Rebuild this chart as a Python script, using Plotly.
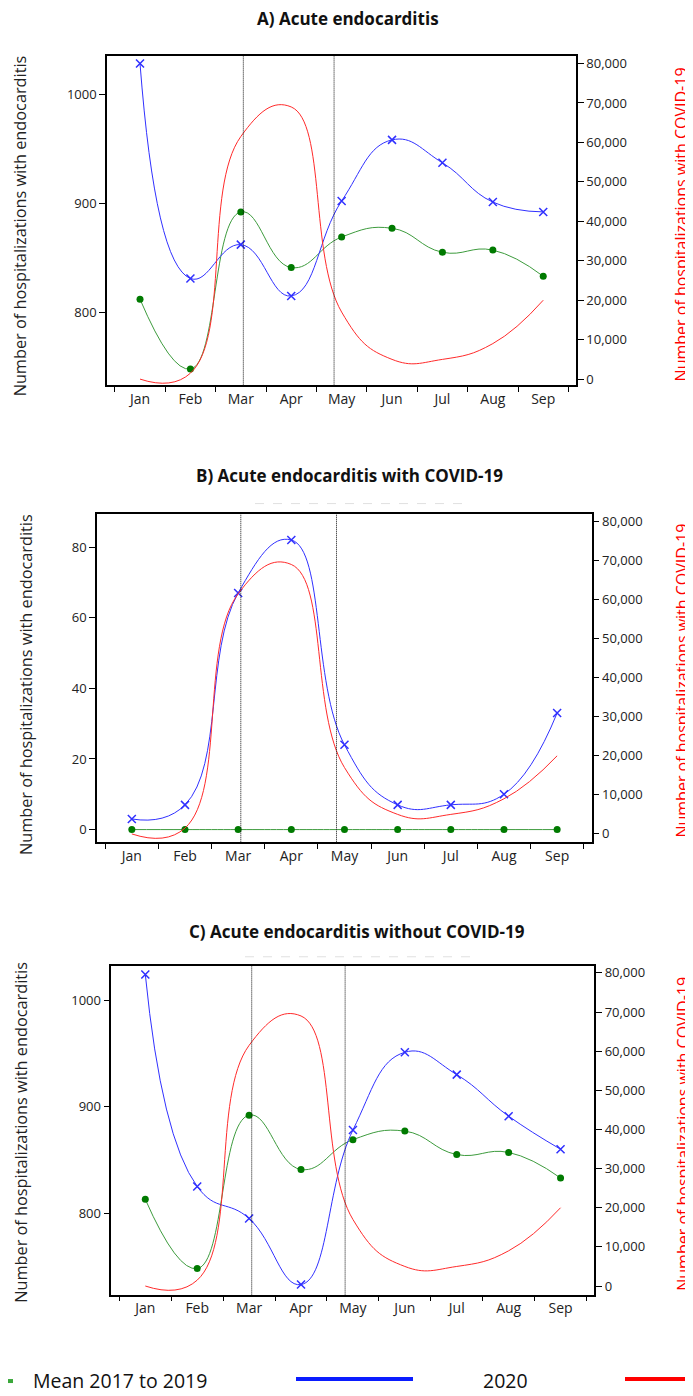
import plotly.graph_objects as go

# ---------------- data ----------------
months = ["Jan", "Feb", "Mar", "Apr", "May", "Jun", "Jul", "Aug", "Sep"]

mean_A = [812, 748, 892, 841, 869, 877, 855, 857, 833]
y2020_A = [1028, 831, 862, 815, 902, 958, 937, 901, 892]

mean_B = [0, 0, 0, 0, 0, 0, 0, 0, 0]
y2020_B = [3, 7, 67, 82, 24, 7, 7, 10, 33]

mean_C = [813, 748, 892, 841, 869, 877, 855, 857, 833]
y2020_C = [1024, 825, 795, 733, 878, 951, 930, 891, 860]

covid_hosp = [0, 1500, 61500, 69000, 17000, 5000, 5000, 9000, 20000]

titles = ["A) Acute endocarditis",
          "B) Acute endocarditis with COVID-19",
          "C) Acute endocarditis without COVID-19"]
left_title = "Number of hospitalizations with endocarditis"
right_title = "Number of hospitalizations with COVID-19"
legend_labels = ["Mean 2017 to 2019", "2020"]
lockdown = [2.05, 3.85]

# ---------------- layout helpers ----------------
# the page has an 8px body margin, so the figure starts at (8, 8)
OFF = 8
W, H = 693 - OFF, 1396 - OFF
def fx(x):
    return (x - OFF) / W
def fy(y):
    return 1 - (y - OFF) / H

FONT = "Open Sans"
GREEN_LINE = "#3d9b3d"
GREEN_MK = "#007a00"
BLUE = "#3030ff"
RED = "#ff2a2a"
SMOOTH = 1.3

panels = [
    dict(mean=mean_A, y2020=y2020_A, xd=(107, 576), yd=(54, 384.5),
         yl=(733, 1035), yr=(-1600, 81950), lt=[800, 900, 1000],
         tx=347.5, ty=17, ltx=20, lty=225, rtx=681, rty=223),
    dict(mean=mean_B, y2020=y2020_B, xd=(97, 591.7), yd=(513.3, 842.7),
         yl=(-3.6, 89.4), yr=(-2144, 81966), lt=[0, 20, 40, 60, 80],
         tx=349, ty=475, ltx=26, lty=685, rtx=682.5, rty=681),
    dict(mean=mean_C, y2020=y2020_C, xd=(111.3, 594.3), yd=(966.7, 1296.3),
         yl=(723.6, 1032), yr=(-2190, 81784), lt=[800, 900, 1000],
         tx=357, ty=932, ltx=21, lty=1134, rtx=683, rty=1135),
]

fig = go.Figure()
layout = dict(width=W, height=H, margin=dict(l=0, r=0, t=0, b=0),
              paper_bgcolor="white", plot_bgcolor="white",
              showlegend=False, font=dict(family=FONT, color="#222"))
annotations = []
shapes = []

for i, p in enumerate(panels):
    xn = "x" if i == 0 else f"x{i+1}"
    yln = "y" if i == 0 else f"y{2*i+1}"
    yrn = f"y{2*i+2}"
    xk = "xaxis" if i == 0 else f"xaxis{i+1}"
    ylk = "yaxis" if i == 0 else f"yaxis{2*i+1}"
    yrk = f"yaxis{2*i+2}"

    fig.add_trace(go.Scatter(
        x=months, y=p["mean"], xaxis=xn, yaxis=yln, mode="lines+markers",
        line=dict(shape="spline", smoothing=SMOOTH, color=GREEN_LINE, width=1),
        marker=dict(symbol="circle", size=7, color=GREEN_MK)))
    fig.add_trace(go.Scatter(
        x=months, y=p["y2020"], xaxis=xn, yaxis=yln, mode="lines+markers",
        line=dict(shape="spline", smoothing=SMOOTH, color=BLUE, width=1),
        marker=dict(symbol="x-thin", size=8, color=BLUE,
                    line=dict(width=1.5, color=BLUE))))
    fig.add_trace(go.Scatter(
        x=months, y=covid_hosp, xaxis=xn, yaxis=yrn, mode="lines",
        line=dict(shape="spline", smoothing=SMOOTH, color=RED, width=1)))

    layout[xk] = dict(domain=[fx(p["xd"][0]), fx(p["xd"][1])], anchor=yln,
                      type="category", range=[-0.655, 8.65],
                      tickson="boundaries", ticks="outside", ticklen=5,
                      tickcolor="black", showline=True, linecolor="black",
                      linewidth=1.5, mirror=True, showgrid=False,
                      tickfont=dict(size=14, color="#222"))
    layout[ylk] = dict(domain=[fy(p["yd"][1]), fy(p["yd"][0])], anchor=xn,
                       range=list(p["yl"]), tickvals=p["lt"], ticks="outside",
                       ticklen=6, tickcolor="black", showline=True,
                       linecolor="black", linewidth=1.5, mirror=True,
                       showgrid=False, zeroline=False,
                       tickfont=dict(size=13, color="#222"))
    layout[yrk] = dict(overlaying=yln, side="right", anchor=xn,
                       range=list(p["yr"]),
                       tickvals=[0, 10000, 20000, 30000, 40000, 50000, 60000, 70000, 80000],
                       tickformat=",", ticks="outside", ticklen=6,
                       tickcolor="black", showline=True, linecolor="black",
                       linewidth=1.5, showgrid=False, zeroline=False,
                       tickfont=dict(size=13, color="#222"))

    for xv in lockdown:
        shapes.append(dict(type="line", xref=xn, yref=f"{yln} domain",
                           x0=xv, x1=xv, y0=0, y1=1,
                           line=dict(color="#111", width=1, dash="1px,1px")))

    annotations.append(dict(text=f"<b>{titles[i]}</b>", xref="paper", yref="paper",
                            x=fx(p["tx"]), y=fy(p["ty"]), xanchor="center",
                            yanchor="middle", showarrow=False,
                            font=dict(size=17, color="#111")))
    annotations.append(dict(text=left_title, xref="paper", yref="paper",
                            x=fx(p["ltx"]), y=fy(p["lty"]), xanchor="center",
                            yanchor="middle", showarrow=False, textangle=-90,
                            font=dict(size=16.3, color="#222")))
    annotations.append(dict(text=right_title, xref="paper", yref="paper",
                            x=fx(p["rtx"]), y=fy(p["rty"]), xanchor="center",
                            yanchor="middle", showarrow=False, textangle=-90,
                            font=dict(size=16, color="#ff0000")))

# faint remnants under titles B and C
shapes.append(dict(type="line", xref="paper", yref="paper", x0=fx(255), x1=fx(463),
                   y0=fy(503), y1=fy(503), line=dict(color="#e0e0e0", width=1, dash="dash")))
shapes.append(dict(type="line", xref="paper", yref="paper", x0=fx(245), x1=fx(478),
                   y0=fy(957.5), y1=fy(957.5), line=dict(color="#e0e0e0", width=1, dash="dash")))

# legend drawn at the bottom
shapes.append(dict(type="line", xref="paper", yref="paper", x0=fx(0), x1=fx(13),
                   y0=fy(1383), y1=fy(1383), line=dict(color="#3aa83a", width=4)))
shapes.append(dict(type="line", xref="paper", yref="paper", x0=fx(296), x1=fx(413),
                   y0=fy(1381), y1=fy(1381), line=dict(color="#0a1cff", width=4)))
shapes.append(dict(type="line", xref="paper", yref="paper", x0=fx(625), x1=fx(700),
                   y0=fy(1381), y1=fy(1381), line=dict(color="#ff0000", width=4)))
annotations.append(dict(text=legend_labels[0], xref="paper", yref="paper",
                        x=fx(31), y=fy(1382), xanchor="left", yanchor="middle",
                        showarrow=False, font=dict(size=19.5, color="#111")))
annotations.append(dict(text=legend_labels[1], xref="paper", yref="paper",
                        x=fx(505.5), y=fy(1382), xanchor="center", yanchor="middle",
                        showarrow=False, font=dict(size=19.5, color="#111")))

layout["annotations"] = annotations
layout["shapes"] = shapes
fig.update_layout(**layout)
fig.write_html("out.html")
